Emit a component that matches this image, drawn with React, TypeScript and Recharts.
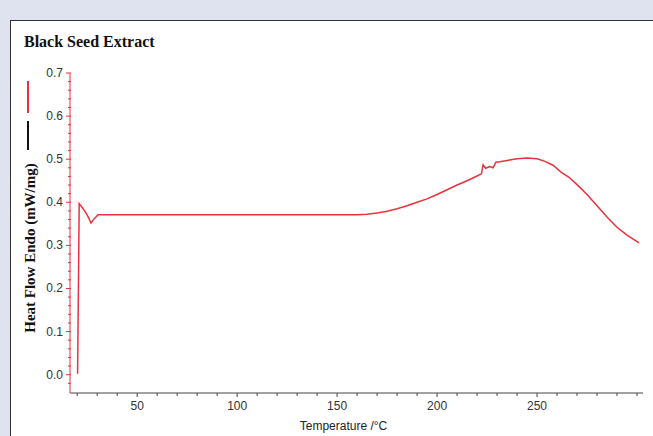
import { LineChart, Line, XAxis, YAxis } from "recharts";

// DSC trace: temperature (°C) and heat flow (mW/mg)
const temps = [
  20.2, 21.0, 22.5, 23.9, 25.5, 26.9, 28.5, 30.5, 40, 60, 80, 100, 120, 140,
  155, 160, 165, 170, 175, 180, 185, 190, 195, 200, 205, 210, 215, 220, 222.2,
  223, 224.3, 226.4, 228, 229.4, 231.4, 235, 240, 245, 250, 254, 258, 262, 266,
  270, 275, 280, 285, 290, 295, 301,
];
const heatFlow = [
  0.002, 0.397, 0.388, 0.379, 0.366, 0.352, 0.362, 0.371, 0.371, 0.371, 0.371,
  0.371, 0.371, 0.371, 0.371, 0.371, 0.372, 0.375, 0.379, 0.385, 0.392, 0.4,
  0.408, 0.418, 0.429, 0.44, 0.45, 0.461, 0.466, 0.487, 0.479, 0.483, 0.48,
  0.493, 0.494, 0.497, 0.501, 0.503, 0.501, 0.495, 0.486, 0.47, 0.458, 0.441,
  0.418, 0.392, 0.366, 0.342, 0.324, 0.306,
];

const xTicks = [
  20, 30, 40, 50, 60, 70, 80, 90, 100, 110, 120, 130, 140, 150, 160, 170, 180,
  190, 200, 210, 220, 230, 240, 250, 260, 270, 280, 290, 300,
];
const xLabelled = [50, 100, 150, 200, 250];
const yTicks = [
  -0.02, 0, 0.02, 0.04, 0.06, 0.08, 0.1, 0.12, 0.14, 0.16, 0.18, 0.2, 0.22,
  0.24, 0.26, 0.28, 0.3, 0.32, 0.34, 0.36, 0.38, 0.4, 0.42, 0.44, 0.46, 0.48,
  0.5, 0.52, 0.54, 0.56, 0.58, 0.6, 0.62, 0.64, 0.66, 0.68, 0.7,
];

const data = temps.map((t, i) => ({ t, v: heatFlow[i] }));

const RED = "#e8323c";
const AXIS_DARK = "#444";

const XTick = (props: any) => {
  const { x, y, payload } = props;
  const val = payload.value;
  const major = xLabelled.includes(val);
  return (
    <g>
      <line x1={x} y1={y} x2={x} y2={y + (major ? 4 : 3)} stroke={AXIS_DARK} strokeWidth={1} />
      {major && (
        <text x={x} y={y + 17} textAnchor="middle" fontSize={12} fill="#333" fontFamily="Arial, 'Liberation Sans', sans-serif">
          {val}
        </text>
      )}
    </g>
  );
};

const YTick = (props: any) => {
  const { x, y, payload } = props;
  const val = payload.value;
  const major = Math.abs(val * 10 - Math.round(val * 10)) < 1e-6;
  return (
    <g>
      <line x1={x - (major ? 4 : 2)} y1={y} x2={x + 1} y2={y} stroke={RED} strokeWidth={1} />
      {major && (
        <text x={x - 7} y={y + 4} textAnchor="end" fontSize={12} fill="#333" fontFamily="Arial, 'Liberation Sans', sans-serif">
          {val.toFixed(1)}
        </text>
      )}
    </g>
  );
};

export default function App() {
  return (
    <div
      style={{
        position: "absolute",
        left: 0,
        top: 0,
        width: 653,
        height: 436,
        background: "#dfe3f0",
        overflow: "hidden",
      }}
    >
      <div
        style={{
          position: "absolute",
          left: 10,
          top: 20,
          width: 660,
          height: 430,
          background: "#fff",
          borderTop: "1.5px solid #333",
          borderLeft: "1.5px solid #333",
        }}
      />
      <div
        style={{
          position: "absolute",
          left: 24,
          top: 33,
          fontFamily: "'Liberation Serif', 'Times New Roman', serif",
          fontWeight: "bold",
          fontSize: 16,
          color: "#111",
        }}
      >
        Black Seed Extract
      </div>

      {/* y label with the little series key above it */}
      <div style={{ position: "absolute", left: 27, top: 81, width: 2, height: 32, background: RED }} />
      <div style={{ position: "absolute", left: 27, top: 121, width: 2, height: 29, background: "#111" }} />
      <div
        style={{
          position: "absolute",
          left: 30,
          top: 248,
          transform: "translate(-50%, -50%) rotate(-90deg)",
          whiteSpace: "nowrap",
          fontFamily: "'Liberation Serif', 'Times New Roman', serif",
          fontWeight: "bold",
          fontSize: 15,
          color: "#111",
        }}
      >
        Heat Flow Endo (mW/mg)
      </div>

      <div style={{ position: "absolute", left: 0, top: 0 }}>
        <LineChart
          width={653}
          height={436}
          data={data}
          margin={{ top: 73, right: 10, left: 0, bottom: 0 }}
        >
          <XAxis
            type="number"
            dataKey="t"
            domain={[16.4, 303]}
            allowDataOverflow
            ticks={xTicks}
            interval={0}
            tickSize={0}
            tickMargin={0}
            tick={<XTick />}
            height={43}
            axisLine={{ stroke: AXIS_DARK, strokeWidth: 1 }}
            tickLine={false}
            label={{
              value: "Temperature /°C",
              position: "insideBottom",
              offset: 6,
              dx: -13,
              style: { fontSize: 12, fill: "#222", fontFamily: "Arial, 'Liberation Sans', sans-serif" },
            }}
          />
          <YAxis
            type="number"
            domain={[-0.0425, 0.7]}
            allowDataOverflow
            ticks={yTicks}
            interval={0}
            tickSize={0}
            tickMargin={0}
            tick={<YTick />}
            width={70}
            axisLine={{ stroke: RED, strokeWidth: 1 }}
            tickLine={false}
          />
          <Line
            type="linear"
            dataKey="v"
            stroke={RED}
            strokeWidth={1.5}
            dot={false}
            isAnimationActive={false}
          />
        </LineChart>
      </div>
    </div>
  );
}
